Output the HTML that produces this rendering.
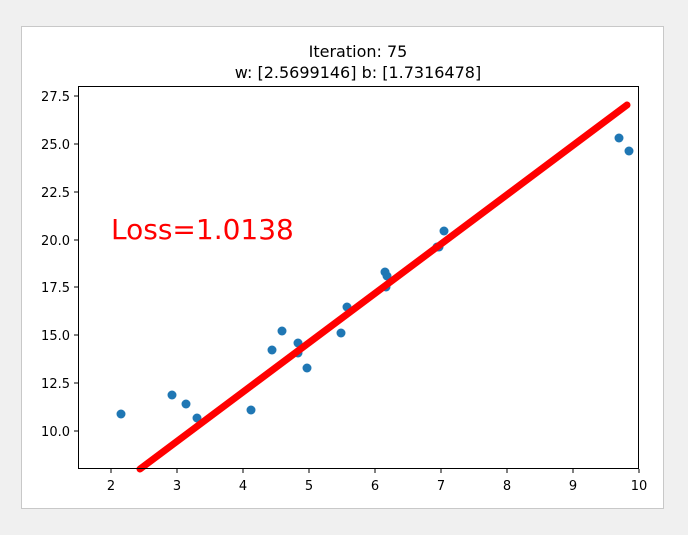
<!DOCTYPE html>
<html><head><style>
body{margin:0;background:#f0f0f0;width:688px;height:535px;overflow:hidden;font-family:"DejaVu Sans","Liberation Sans",sans-serif;}
</style></head><body>
<svg width="688" height="535" xmlns="http://www.w3.org/2000/svg" style="position:absolute;left:0;top:0">
<rect x="21.5" y="26.5" width="642" height="482" fill="#fff" stroke="#c8c8c8"/>
<g font-size="16" text-anchor="middle" fill="#000">
<text x="358" y="57">Iteration: 75</text>
<text x="358" y="78">w: [2.5699146] b: [1.7316478]</text>
</g>
<g fill="#1f77b4">
<circle cx="121" cy="414" r="4.5"/><circle cx="172" cy="395" r="4.5"/><circle cx="186" cy="404" r="4.5"/>
<circle cx="197" cy="418" r="4.5"/><circle cx="251" cy="410" r="4.5"/><circle cx="272" cy="350" r="4.5"/>
<circle cx="282" cy="331" r="4.5"/><circle cx="298" cy="343" r="4.5"/><circle cx="298" cy="353" r="4.5"/>
<circle cx="307" cy="368" r="4.5"/><circle cx="341" cy="333" r="4.5"/><circle cx="347" cy="307" r="4.5"/>
<circle cx="385" cy="272" r="4.5"/><circle cx="387" cy="276" r="4.5"/><circle cx="386" cy="287" r="4.5"/>
<circle cx="437" cy="247" r="4.5"/><circle cx="439" cy="247" r="4.5"/><circle cx="444" cy="231" r="4.5"/>
<circle cx="619" cy="138" r="4.5"/><circle cx="629" cy="151" r="4.5"/>
</g>
<line x1="140" y1="469" x2="627" y2="105" stroke="#ff0000" stroke-width="7" stroke-linecap="round"/>
<text x="111" y="239" font-size="28" fill="#ff0000">Loss=1.0138</text>
<rect x="78.5" y="86.5" width="560" height="382" fill="none" stroke="#000" stroke-width="1"/>
<g stroke="#000">
<line x1="111" y1="469" x2="111" y2="473"/><line x1="177" y1="469" x2="177" y2="473"/><line x1="243" y1="469" x2="243" y2="473"/><line x1="309" y1="469" x2="309" y2="473"/><line x1="375" y1="469" x2="375" y2="473"/><line x1="441" y1="469" x2="441" y2="473"/><line x1="507" y1="469" x2="507" y2="473"/><line x1="573" y1="469" x2="573" y2="473"/><line x1="639" y1="469" x2="639" y2="473"/>
<line x1="74" y1="96" x2="78" y2="96"/><line x1="74" y1="144" x2="78" y2="144"/><line x1="74" y1="192" x2="78" y2="192"/><line x1="74" y1="240" x2="78" y2="240"/><line x1="74" y1="287" x2="78" y2="287"/><line x1="74" y1="335" x2="78" y2="335"/><line x1="74" y1="383" x2="78" y2="383"/><line x1="74" y1="431" x2="78" y2="431"/>
</g>
<g font-size="13" text-anchor="middle" fill="#000">
<text x="111" y="490">2</text><text x="177" y="490">3</text><text x="243" y="490">4</text><text x="309" y="490">5</text><text x="375" y="490">6</text><text x="441" y="490">7</text><text x="507" y="490">8</text><text x="573" y="490">9</text><text x="639" y="490">10</text>
</g>
<g font-size="13" text-anchor="end" fill="#000">
<text x="70" y="101">27.5</text><text x="70" y="149">25.0</text><text x="70" y="197">22.5</text><text x="70" y="245">20.0</text><text x="70" y="292">17.5</text><text x="70" y="340">15.0</text><text x="70" y="388">12.5</text><text x="70" y="436">10.0</text>
</g>
</svg>
</body></html>
